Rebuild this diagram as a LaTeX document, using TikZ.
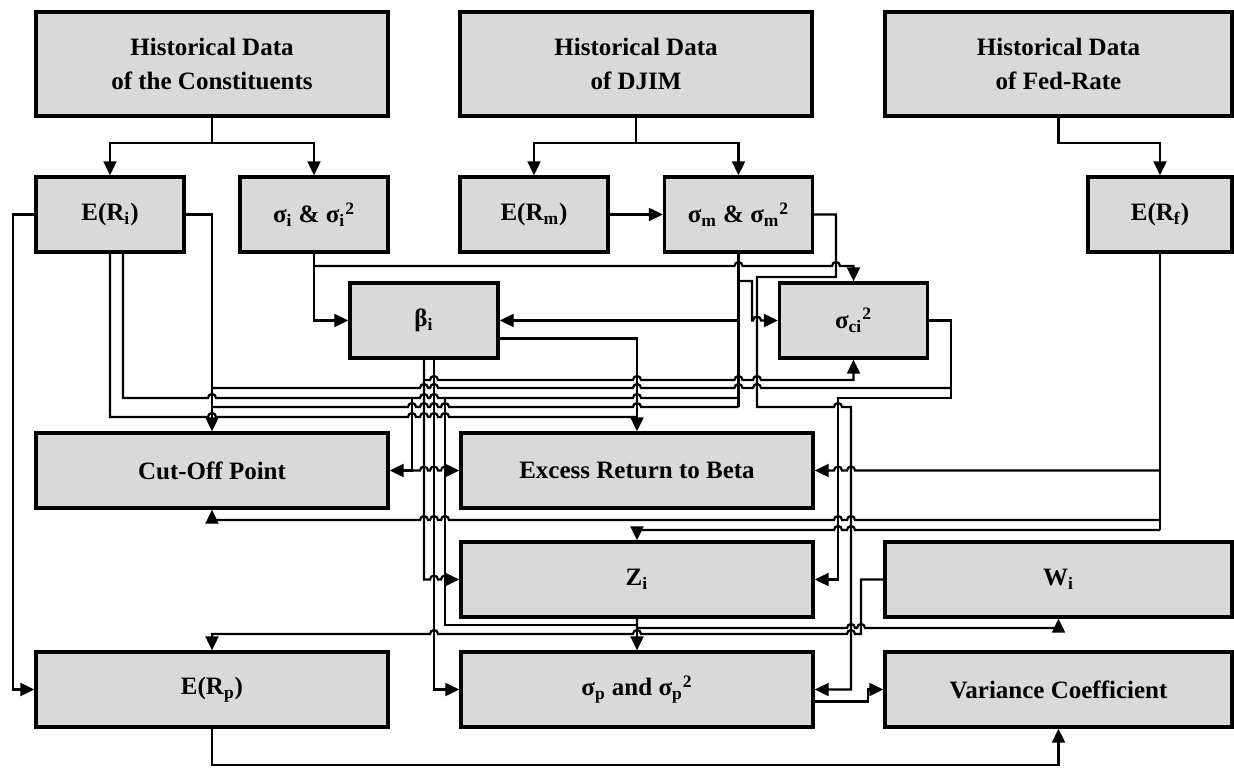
\documentclass[tikz,border=0pt]{standalone}
\usepackage{fontspec}
\setmainfont{Liberation Serif}
\usepackage{tikz}
\usetikzlibrary{arrows.meta}

\begin{document}
\begin{tikzpicture}[x=0.5pt,y=-0.5pt]
    \newcommand{\rowheight}[0]{37.5pt}
    \newcommand{\wide}[0]{176pt}
    \newcommand{\narrow}[0]{74pt}
    \newcommand{\hopr}[2]{-- ({#1-4},#2) arc[start angle=180,end angle=0,radius=2pt]}
    \newcommand{\hopl}[2]{-- ({#1+4},#2) arc[start angle=0,end angle=180,radius=2pt]}

    \definecolor{boxgray}{RGB}{217,217,217}

    \tikzstyle{edge} = [line width=1.1pt,draw=black]
    \tikzstyle{dedge} = [edge,-{Triangle[length=7pt,width=6.5pt]}]

    \tikzstyle{block}=[
      rectangle,
      draw=black,
      fill=boxgray,
      line width=1.7pt,
      inner sep=0pt,
      align=center,
      minimum height=\rowheight,
      minimum width=\narrow,
      font=\bfseries\fontsize{12.5}{17}\selectfont,
    ]

    \useasboundingbox (0,0) rectangle (1234,780);

    \node[block,minimum width=\wide,minimum height=52pt] (hcon) at (212,64) {Historical Data\\of the Constituents};
    \node[block,minimum width=\wide,minimum height=52pt] (hdjim) at (636,64) {Historical Data\\of DJIM};
    \node[block,minimum width=173.5pt,minimum height=52pt] (hfed) at (1058.5,64) {Historical Data\\of Fed-Rate};

    \node[block] (eri) at (110,214.5) {E(R\textsubscript{i})};
    \node[block] (sigi) at (314,214.5) {σ\textsubscript{i} \& σ\textsubscript{i}\textsuperscript{2}};
    \node[block] (erm) at (534,214.5) {E(R\textsubscript{m})};
    \node[block] (sigm) at (738.5,214.5) {σ\textsubscript{m} \& σ\textsubscript{m}\textsuperscript{2}};
    \node[block,minimum width=72pt] (erf) at (1160,214.5) {E(R\textsubscript{f})};

    \node[block] (beta) at (424,320.5) {β\textsubscript{i}};
    \node[block] (sigci) at (853.5,320.5) {σ\textsubscript{ci}\textsuperscript{2}};

    \node[block,minimum width=\wide] (cutoff) at (212,470.5) {Cut-Off Point};
    \node[block,minimum width=\wide] (excess) at (637,470.5) {Excess Return to Beta};
    \node[block,minimum width=\wide] (zi) at (637,579.5) {Z\textsubscript{i}};
    \node[block,minimum width=173.5pt] (wi) at (1058.5,579.5) {W\textsubscript{i}};
    \node[block,minimum width=\wide] (erp) at (212,689.5) {E(R\textsubscript{p})};
    \node[block,minimum width=\wide] (sigp) at (637,689.5) {σ\textsubscript{p} and σ\textsubscript{p}\textsuperscript{2}};
    \node[block,minimum width=173.5pt] (varcoef) at (1058.5,689.5) {Variance Coefficient};

    \coordinate (hconsplit) at (212,143);
    \coordinate (hdjimsplit) at (636,143);
    \draw[dedge] (hcon.south) -- (hconsplit) -| (eri.north);
    \draw[dedge] (hconsplit) -| (sigi.north);
    \draw[dedge] (hdjim.south) -- (hdjimsplit) -| (erm.north);
    \draw[dedge] (hdjimsplit) -| (sigm.north);
    \draw[dedge] (hfed.south) -- (1058.5,143) -| (erf.north);

    \draw[dedge] (erm) -- (sigm);
    \draw[dedge] (eri.west) -- (13,214.5) |- (erp.west);
    \draw[dedge] (eri.east) -- (212,214.5) -- (cutoff.north);

    % inputs of beta and sigma ci
    \draw[dedge] (sigi.south) |- (beta.west);
    \draw[dedge] (314,266) \hopr{738.5}{266} \hopr{836}{266} -- (853.5,266) -- (sigci.north);
    \draw[edge] (sigm.south) -- (738.5,407);
    \draw[dedge] (738.5,320.5) -- (beta.east);
    \draw[dedge] (738.5,281) -- (752,281) -- (752,320.5) \hopr{757}{320.5} -- (sigci.west);
    \draw[dedge] (424,380) \hopr{434}{380} \hopr{637}{380} \hopr{738.5}{380} \hopr{757}{380} -- (853.5,380) -- (sigci.south);

    \draw[dedge] (sigm.east) -- (836,214.5) -- (836,277) -- (757,277) -- (757,407) \hopr{838}{407} -- (851,407) -- (851,689.5) -- (sigp.east);
    \draw[dedge] (sigci.east) -- (951,320.5) -- (951,398) -- (838,398) -- (838,579.5) -- (zi.east);
    \draw[edge] (951,388) \hopl{757}{388} \hopl{738.5}{388} \hopl{637}{388} \hopl{434}{388} \hopl{424}{388} -- (212,388);
    \draw[edge] (738.5,407) \hopl{637}{407} \hopl{445}{407} \hopl{434}{407} \hopl{424}{407} \hopl{412}{407} -- (212,407);

    \draw[dedge] ([yshift=-9pt]beta.east) -| (excess.north);
    \draw[edge] ([xshift=6.5pt]eri.south) -- (123,398) \hopr{212}{398} \hopr{424}{398} \hopr{434}{398} \hopr{637}{398} -- (738.5,398);
    \draw[edge] (eri.south) -- (110,417) \hopr{212}{417} \hopr{412}{417} \hopr{424}{417} \hopr{434}{417} \hopr{445}{417} -- (637,417);
    \draw[dedge] (412,398) -- (412,470.5) -- (cutoff.east);
    \draw[dedge] (412,470.5) \hopr{424}{470.5} \hopr{434}{470.5} \hopr{445}{470.5} -- (excess.west);
    \draw[dedge] (445,398) -- (445,625) -| (sigp.north);

    \draw[dedge] (beta.south) -- (424,579.5) \hopr{434}{579.5} \hopr{445}{579.5} -- (zi.west);
    \draw[dedge] ([xshift=5pt]beta.south) -- (434,689.5) -- (sigp.west);

    % risk free rate
    \draw[edge] (erf.south) -- (1160,530);
    \draw[dedge] (1160,470.5) \hopl{851}{470.5} \hopl{838}{470.5} -- (excess.east);
    \draw[dedge] (1160,520) \hopl{851}{520} \hopl{838}{520} \hopl{445}{520} \hopl{434}{520} \hopl{424}{520} -| (cutoff.south);
    \draw[dedge] (1160,530) \hopl{851}{530} \hopl{838}{530} -| (zi.north);

    \draw[dedge] (zi.south) -- (637,628) \hopr{851}{628} \hopr{861}{628} -| (wi.south);
    \draw[dedge] (wi.west) -- (861,579.5) -- (861,634) \hopl{851}{634} \hopl{637}{634} \hopl{434}{634} -| (erp.north);
    \draw[dedge] (erp.south) -- (212,765) -| (varcoef.south);
    \draw[dedge] ([yshift=-6pt]sigp.east) -- (868,701.5) |- (varcoef.west);
\end{tikzpicture}
\end{document}
